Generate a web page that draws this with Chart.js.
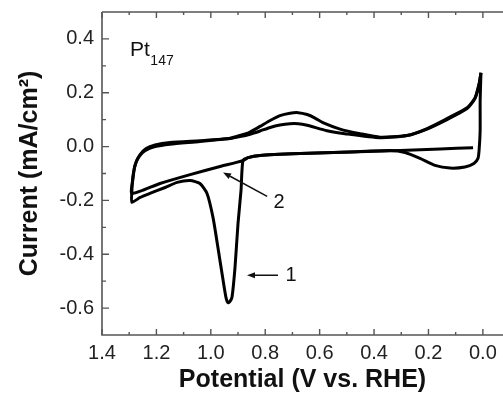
<!DOCTYPE html>
<html><head><meta charset="utf-8">
<script src="https://cdn.jsdelivr.net/npm/chart.js@4/dist/chart.umd.min.js"></script>
<style>html,body{margin:0;padding:0;background:#fff}#wrap{width:503px;height:395px}</style>
</head><body><div id="wrap"><canvas id="c" width="503" height="395"></canvas></div>
<script>
const xTickValues=[1.4,1.2,1.0,0.8,0.6,0.4,0.2,0.0];
const yTickValues=[-0.6,-0.4,-0.2,0.0,0.2,0.4];
const xMinorValues=[1.3,1.1,0.9,0.7,0.5,0.3,0.1];
const yMinorValues=[-0.5,-0.3,-0.1,0.1,0.3];

const cycle1Potential=[0.036,0.157,0.304,0.488,0.672,0.819,0.863,0.882,0.889,0.900,0.911,0.922,0.930,0.937,0.944,0.955,0.974,0.992,1.014,1.040,1.076,1.124,1.168,1.224,1.260,1.290,1.290,1.286,1.275,1.260,1.238,1.205,1.150,1.040,0.929,0.893,0.856,0.819,0.782,0.746,0.709,0.679,0.646,0.573,0.507,0.378,0.279,0.205,0.132,0.058,0.029,0.014,0.007];
const cycle1Current=[-0.004,-0.009,-0.015,-0.020,-0.026,-0.033,-0.041,-0.052,-0.163,-0.285,-0.448,-0.559,-0.576,-0.580,-0.562,-0.496,-0.374,-0.263,-0.174,-0.137,-0.126,-0.133,-0.152,-0.174,-0.189,-0.207,-0.163,-0.107,-0.059,-0.030,-0.007,0.006,0.015,0.022,0.030,0.037,0.046,0.058,0.071,0.080,0.085,0.085,0.079,0.059,0.048,0.033,0.041,0.067,0.104,0.144,0.181,0.233,0.274];

const cycle2Potential=[0.007,0.010,0.010,0.014,0.018,0.033,0.066,0.121,0.176,0.231,0.286,0.341,0.488,0.672,0.819,0.863,0.882,0.966,1.076,1.187,1.290,1.286,1.279,1.264,1.242,1.205,1.150,1.040,0.929,0.893,0.856,0.819,0.782,0.746,0.709,0.679,0.646,0.617,0.588,0.525,0.451,0.378,0.279,0.205,0.132,0.058,0.029,0.014,0.007];
const cycle2Current=[0.274,0.170,0.059,-0.015,-0.044,-0.063,-0.076,-0.080,-0.070,-0.044,-0.022,-0.015,-0.020,-0.026,-0.033,-0.041,-0.052,-0.074,-0.104,-0.137,-0.174,-0.119,-0.070,-0.037,-0.015,0.000,0.009,0.019,0.031,0.041,0.054,0.075,0.097,0.115,0.124,0.126,0.119,0.106,0.089,0.065,0.048,0.035,0.041,0.065,0.100,0.141,0.178,0.230,0.274];

const arrowLabels=['1','2'];
const arrowTail=[[0.753,-0.478],[0.793,-0.185]];
const arrowHead=[[0.867,-0.478],[0.955,-0.096]];
const arrowLabelPos=[[0.705,-0.478],[0.749,-0.207]];
const sampleLabel='Pt', sampleSub='147', sampleLabelPos=[1.297,0.337];

function pts(xs,ys){return xs.map((x,i)=>({x:x,y:ys[i]}));}
const FONT='"Liberation Sans", Arial, sans-serif';

const deco={
  id:'deco',
  afterDraw(chart){
    const ctx=chart.ctx, xs=chart.scales.x, ys=chart.scales.y;
    const a={left:xs.left,right:xs.right,top:ys.top,bottom:ys.bottom};
    ctx.save();
    ctx.strokeStyle='#555'; ctx.lineWidth=1.6;
    ctx.beginPath();
    ctx.moveTo(a.left,a.top); ctx.lineTo(a.left,a.bottom); ctx.lineTo(a.right,a.bottom);
    ctx.moveTo(a.left,a.top); ctx.lineTo(a.right,a.top);
    ctx.stroke();
    ctx.lineWidth=1.4;
    ctx.beginPath();
    xTickValues.forEach(v=>{const p=xs.getPixelForValue(v);
      ctx.moveTo(p,a.bottom); ctx.lineTo(p,a.bottom-6);
      ctx.moveTo(p,a.top); ctx.lineTo(p,a.top+6);});
    xMinorValues.forEach(v=>{const p=xs.getPixelForValue(v);
      ctx.moveTo(p,a.bottom); ctx.lineTo(p,a.bottom-3);
      ctx.moveTo(p,a.top); ctx.lineTo(p,a.top+3);});
    yTickValues.forEach(v=>{const p=ys.getPixelForValue(v);
      ctx.moveTo(a.left,p); ctx.lineTo(a.left+7,p);});
    yMinorValues.forEach(v=>{const p=ys.getPixelForValue(v);
      ctx.moveTo(a.left,p); ctx.lineTo(a.left+4,p);});
    ctx.stroke();
    ctx.fillStyle='#111';
    const sx=xs.getPixelForValue(sampleLabelPos[0]), sy=ys.getPixelForValue(sampleLabelPos[1]);
    ctx.font='21px '+FONT; ctx.textBaseline='alphabetic'; ctx.textAlign='left';
    ctx.fillText(sampleLabel,sx,sy);
    const w=ctx.measureText(sampleLabel).width;
    ctx.font='14px '+FONT;
    ctx.fillText(sampleSub,sx+w+0.5,sy+9);
    ctx.strokeStyle='#111'; ctx.lineWidth=1.5;
    arrowLabels.forEach((lab,i)=>{
      const x1=xs.getPixelForValue(arrowTail[i][0]), y1=ys.getPixelForValue(arrowTail[i][1]);
      const x2=xs.getPixelForValue(arrowHead[i][0]), y2=ys.getPixelForValue(arrowHead[i][1]);
      const ang=Math.atan2(y2-y1,x2-x1), L=8, W=3;
      const bx=x2-L*Math.cos(ang), by=y2-L*Math.sin(ang);
      ctx.beginPath(); ctx.moveTo(x1,y1); ctx.lineTo(bx,by); ctx.stroke();
      ctx.beginPath(); ctx.moveTo(x2,y2);
      ctx.lineTo(bx+W*Math.sin(ang),by-W*Math.cos(ang));
      ctx.lineTo(bx-W*Math.sin(ang),by+W*Math.cos(ang));
      ctx.closePath(); ctx.fill();
      ctx.font='20px '+FONT; ctx.textAlign='center'; ctx.textBaseline='middle';
      ctx.fillText(lab,xs.getPixelForValue(arrowLabelPos[i][0]),ys.getPixelForValue(arrowLabelPos[i][1]));
    });
    ctx.restore();
  }
};

new Chart(document.getElementById('c'),{
  type:'scatter',
  data:{datasets:[
    {label:'1',data:pts(cycle1Potential,cycle1Current),showLine:true,borderColor:'#000',borderWidth:3,pointRadius:0,tension:0.2,fill:false},
    {label:'2',data:pts(cycle2Potential,cycle2Current),showLine:true,borderColor:'#000',borderWidth:3,pointRadius:0,tension:0.2,fill:false}
  ]},
  options:{
    responsive:false,animation:false,devicePixelRatio:1,
    layout:{padding:{top:12,left:0,right:0,bottom:0}},
    plugins:{legend:{display:false},tooltip:{enabled:false}},
    scales:{
      x:{type:'linear',reverse:true,min:-0.074,max:1.4,position:'bottom',
        afterFit(s){s.height=60;s.paddingLeft=0;s.paddingRight=0;},
        afterBuildTicks(s){s.ticks=xTickValues.map(v=>({value:v}));},
        grid:{display:false,drawTicks:false},border:{display:false},
        ticks:{autoSkip:false,maxRotation:0,padding:6,color:'#222',font:{family:FONT,size:20},
          callback:v=>Math.abs(v)<1e-9?'0.0':Number(v).toFixed(1)},
        title:{display:true,text:'Potential (V vs. RHE)',color:'#111',font:{family:FONT,size:25,weight:'bold'},padding:{top:0,bottom:0}}
      },
      y:{type:'linear',min:-0.7,max:0.5,
        afterFit(s){s.width=102;s.paddingTop=0;s.paddingBottom=0;},
        afterBuildTicks(s){s.ticks=yTickValues.map(v=>({value:v}));},
        grid:{display:false,drawTicks:false},border:{display:false},
        ticks:{autoSkip:false,padding:8,color:'#222',font:{family:FONT,size:20},
          callback:v=>Math.abs(v)<1e-9?'0.0':Number(v).toFixed(1)},
        title:{display:true,text:'Current (mA/cm²)',color:'#111',font:{family:FONT,size:25,weight:'bold'},padding:{top:15,bottom:0}}
      }
    }
  },
  plugins:[deco]
});
</script></body></html>
